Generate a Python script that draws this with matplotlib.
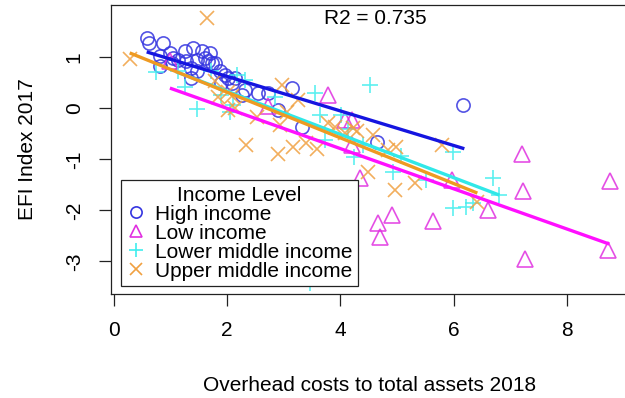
import matplotlib
matplotlib.use("Agg")
import matplotlib.pyplot as plt
from matplotlib.lines import Line2D

plt.rcParams['font.family'] = ['Liberation Sans', 'DejaVu Sans']

# ---- data ----
high_x = [0.58, 0.62, 0.87, 0.81, 0.99, 1.05, 1.14, 1.25, 1.28, 1.40, 1.46, 1.55, 1.61, 1.70,
          1.67, 0.81, 1.02, 1.37, 1.46, 1.37, 1.78, 1.87, 1.96, 2.02, 2.14, 2.26, 2.31, 1.73,
          1.90, 2.08, 2.55, 2.73, 2.90, 3.14, 3.32, 4.64, 6.17]
high_y = [1.38, 1.28, 1.28, 1.02, 1.09, 0.99, 0.96, 1.12, 0.93, 1.19, 0.96, 1.12, 0.99, 1.09,
          0.93, 0.83, 0.89, 0.79, 0.73, 0.60, 0.89, 0.73, 0.66, 0.60, 0.60, 0.27, 0.37, 0.89,
          0.49, 0.49, 0.30, 0.30, -0.03, 0.40, -0.36, -0.65, 0.07]

low_x = [0.99, 2.73, 3.79, 4.08, 4.20, 4.20, 4.35, 4.67, 4.70, 4.92, 5.64, 5.97, 6.60, 7.20,
         7.22, 7.26, 8.76, 8.73]
low_y = [0.93, 0.04, 0.26, -0.23, -0.23, -0.72, -1.37, -2.25, -2.53, -2.09, -2.20, -1.40,
         -2.00, -0.89, -1.61, -2.96, -1.43, -2.77]

lmid_x = [0.75, 1.14, 1.25, 1.46, 1.71, 1.90, 2.05, 2.11, 2.17, 2.32, 2.84, 3.46, 3.55, 3.64,
          3.73, 4.02, 4.14, 4.25, 4.40, 4.52, 4.93, 5.08, 5.52, 5.99, 5.99, 6.22, 6.35, 6.70, 6.81]
lmid_y = [0.72, 0.73, 0.43, -0.02, 0.74, 0.27, -0.06, 0.07, 0.66, 0.55, 0.23, -3.42, 0.30, -0.13,
          -0.62, -0.13, -0.40, -0.96, -0.72, 0.46, -1.24, -0.94, -1.40, -0.85, -1.96, -1.93,
          -1.86, -1.37, -1.70]

umid_x = [0.28, 1.64, 1.78, 1.84, 2.02, 2.02, 2.08, 2.14, 2.34, 2.52, 2.93, 2.90, 2.97, 3.05,
          3.17, 3.26, 3.40, 3.58, 3.79, 3.90, 4.08, 4.23, 4.29, 4.49, 4.58, 4.85, 4.99, 4.96,
          5.32, 5.79, 6.41]
umid_y = [0.98, 1.77, 0.53, 0.23, 0.33, -0.03, 0.24, 0.01, -0.72, -0.16, -0.32, -0.90, 0.46,
          -0.06, -0.75, 0.17, -0.68, -0.80, -0.29, -0.36, -0.49, -0.39, -0.45, -1.24, -0.52,
          -0.81, -0.75, -1.60, -1.47, -0.72, -1.83]

# fitted regression line endpoints per group
fit_x = {'High income': [0.58, 6.19], 'Low income': [0.99, 8.75],
         'Lower middle income': [1.10, 6.81], 'Upper middle income': [0.28, 6.42]}
fit_y = {'High income': [1.11, -0.79], 'Low income': [0.40, -2.66],
         'Lower middle income': [0.72, -1.70], 'Upper middle income': [1.09, -1.66]}

groups = ['High income', 'Low income', 'Lower middle income', 'Upper middle income']
xs = [high_x, low_x, lmid_x, umid_x]
ys = [high_y, low_y, lmid_y, umid_y]
markers = ['o', '^', '+', 'x']
mcolors = ['#3535E0', '#E030E0', '#40EEEE', '#F0A040']
lcolors = ['#1515E0', '#FF10FF', '#30E8E8', '#EE9A22']
msizes = [9.5, 11, 12, 10]

x_ticks = [0, 2, 4, 6, 8]
y_ticks = [-3, -2, -1, 0, 1]
r2_text = 'R2 = 0.735'

# ---- figure ----
fig = plt.figure(figsize=(6.25, 3.98), dpi=100)
W, H = 625, 398
left, right, top, bottom = 111, 628, 5, 294
ax = fig.add_axes([left / W, 1 - bottom / H, (right - left) / W, (bottom - top) / H])

for g, x, y, m, mc, ms in zip(groups, xs, ys, markers, mcolors, msizes):
    if m in ('+', 'x'):
        ax.plot(x, y, linestyle='none', marker=m, markersize=ms, markeredgewidth=1.2,
                color=mc, alpha=0.85, label=g)
    else:
        ax.plot(x, y, linestyle='none', marker=m, markersize=ms, markeredgewidth=1.2,
                markerfacecolor='none', markeredgecolor=mc, alpha=0.85, label=g)

for g, lc in zip(groups, lcolors):
    ax.plot(fit_x[g], fit_y[g], color=lc, linewidth=2.4, solid_capstyle='butt')

ax.set_xlim(-0.05, 9.08)
ax.set_ylim(-3.64, 2.03)
ax.set_xticks(x_ticks)
ax.set_yticks(y_ticks)
ax.set_xticklabels([str(t) for t in x_ticks])
ax.set_yticklabels([str(t) for t in y_ticks], rotation=90, va='center')
ax.tick_params(axis='both', length=8.6, width=0.9, labelsize=15, direction='out', color='#222222')
ax.tick_params(axis='x', pad=11)
ax.tick_params(axis='y', pad=11)
for s in ax.spines.values():
    s.set_linewidth(0.9)
    s.set_color('#222222')

ax.set_xlabel('Overhead costs to total assets 2018', fontsize=15, labelpad=26)
ax.set_ylabel('EFI Index 2017', fontsize=15, labelpad=20)

ax.text(4.61, 1.77, r2_text, fontsize=15, ha='center', va='center')

handles = [Line2D([], [], linestyle='none', marker=m, markersize=ms * 0.85, markeredgewidth=1.2,
                  color=mc, markerfacecolor='none' if m not in ('+', 'x') else mc,
                  markeredgecolor=mc)
           for m, mc, ms in zip(markers, mcolors, msizes)]
leg = ax.legend(handles, groups, title='Income Level', loc='lower left',
                bbox_to_anchor=(0.0193, 0.028), borderaxespad=0, fontsize=15,
                title_fontsize=15, frameon=True, fancybox=False, labelspacing=0.0,
                handlelength=0.9, handletextpad=0.5, borderpad=0.25, framealpha=1)
leg.get_frame().set_edgecolor('#222222')
leg.get_frame().set_linewidth(0.9)

fig.savefig('out.png', dpi=100)
